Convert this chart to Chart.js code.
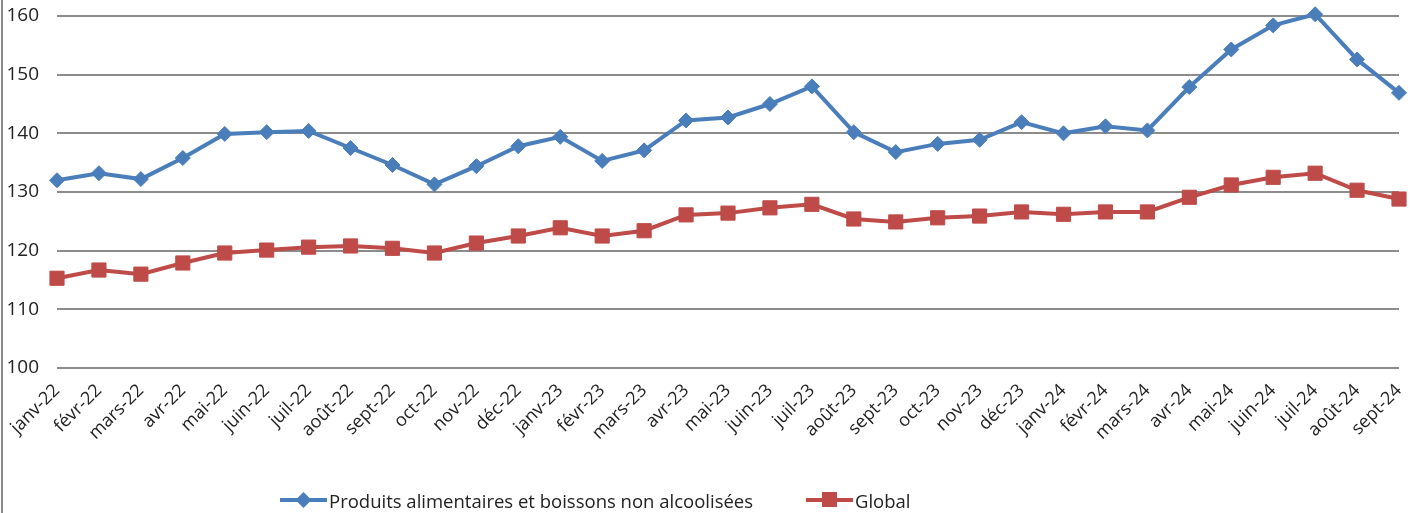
<!DOCTYPE html>
<html>
<head>
<meta charset="utf-8">
<script src="https://cdn.jsdelivr.net/npm/chart.js@4.4.1/dist/chart.umd.min.js"></script>
<style>
  html,body{margin:0;padding:0;background:#fff;}
  #wrap{position:relative;width:1410px;height:513px;overflow:hidden;}
  #frame{position:absolute;left:1px;top:0;width:2px;height:513px;background:#8a8a8a;}
  #legend{position:absolute;top:488px;left:0;width:1410px;height:24px;font-family:"Open Sans",sans-serif;font-size:18.5px;color:#222;}
  .item{position:absolute;top:0;display:flex;align-items:center;height:24px;white-space:nowrap;}
  .item canvas{display:block;margin-right:2px;}
</style>
</head>
<body>
<div id="wrap">
  <canvas id="c" width="1410" height="513"></canvas>
  <div id="frame"></div>
  <div id="legend"></div>
</div>
<script>
const categories = ["janv-22","févr-22","mars-22","avr-22","mai-22","juin-22","juil-22","août-22","sept-22","oct-22","nov-22","déc-22",
  "janv-23","févr-23","mars-23","avr-23","mai-23","juin-23","juil-23","août-23","sept-23","oct-23","nov-23","déc-23",
  "janv-24","févr-24","mars-24","avr-24","mai-24","juin-24","juil-24","août-24","sept-24"];
const alimentaires = [132.0,133.2,132.2,135.8,139.9,140.2,140.4,137.5,134.6,131.3,134.4,137.8,
  139.4,135.3,137.1,142.2,142.7,145.0,148.0,140.2,136.8,138.2,138.9,141.9,
  140.0,141.2,140.5,147.9,154.3,158.4,160.3,152.6,146.9];
const globalIdx = [115.3,116.7,116.0,117.9,119.6,120.1,120.6,120.8,120.4,119.6,121.3,122.5,
  123.9,122.5,123.4,126.1,126.4,127.3,127.9,125.4,124.9,125.6,125.9,126.6,
  126.2,126.6,126.6,129.1,131.2,132.5,133.2,130.3,128.8];
const yTicks = [100,110,120,130,140,150,160];
const seriesNames = ["Produits alimentaires et boissons non alcoolisées","Global"];

const BLUE = "#4a7ebb", RED = "#be4b48";

const chart = new Chart(document.getElementById('c'), {
  type: 'line',
  data: {
    labels: categories,
    datasets: [
      {label: seriesNames[0], data: alimentaires, borderColor: BLUE, backgroundColor: BLUE,
       borderWidth: 4, pointStyle: 'rectRot', pointRadius: 7.5, pointBorderWidth: 1, pointHoverRadius: 7.5, tension: 0, clip: false},
      {label: seriesNames[1], data: globalIdx, borderColor: RED, backgroundColor: RED,
       borderWidth: 4, pointStyle: 'rect', pointRadius: 10, pointBorderWidth: 1, pointHoverRadius: 10, tension: 0, clip: false}
    ]
  },
  options: {
    responsive: false,
    animation: false,
    events: [],
    layout: {padding: {top: 16, right: 10, left: 0, bottom: 0}},
    plugins: {legend: {display: false}, tooltip: {enabled: false}},
    scales: {
      x: {
        offset: false,
        grid: {display: false},
        border: {display: false},
        ticks: {autoSkip: false, maxRotation: 45, minRotation: 45, padding: 4,
          color: '#222', font: {family: '"Open Sans", sans-serif', size: 18}},
        afterFit: s => { s.height = 513 - 368; s.paddingLeft = 0; s.paddingRight = 0; s.paddingTop = 0; s.paddingBottom = 0; }
      },
      y: {
        min: 100, max: 160,
        afterBuildTicks: s => { s.ticks = yTicks.map(v => ({value: v})); },
        grid: {color: '#8c8c8c', lineWidth: 2, drawTicks: false},
        border: {display: false},
        ticks: {padding: 18, color: '#222',
          font: {family: '"Open Sans", sans-serif', size: 19}},
        afterFit: s => { s.width = 57; s.paddingTop = 0; s.paddingBottom = 0; s.paddingLeft = 0; s.paddingRight = 0; }
      }
    }
  }
});

// HTML legend
const leg = document.getElementById('legend');
const legendPos = [280, 806];
chart.data.datasets.forEach((ds, i) => {
  const it = document.createElement('div');
  it.className = 'item';
  it.style.left = legendPos[i] + 'px';
  const cv = document.createElement('canvas');
  cv.width = 47; cv.height = 24;
  const g = cv.getContext('2d');
  g.strokeStyle = ds.borderColor; g.lineWidth = 4;
  g.beginPath(); g.moveTo(0, 12); g.lineTo(47, 12); g.stroke();
  g.fillStyle = ds.backgroundColor;
  if (ds.pointStyle === 'rectRot') {
    g.beginPath(); g.moveTo(23.5, 4); g.lineTo(31.5, 12); g.lineTo(23.5, 20); g.lineTo(15.5, 12); g.closePath(); g.fill();
  } else {
    g.fillRect(16, 4, 15, 15);
  }
  it.appendChild(cv);
  const sp = document.createElement('span');
  sp.textContent = ds.label;
  it.appendChild(sp);
  leg.appendChild(it);
});
</script>
</body>
</html>
